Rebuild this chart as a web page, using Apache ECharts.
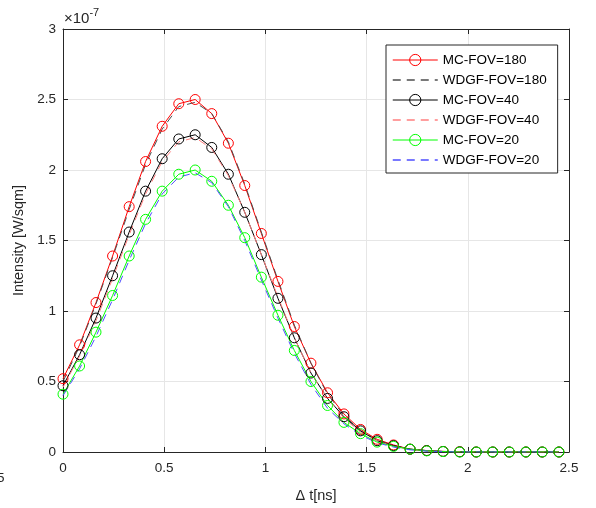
<!DOCTYPE html>
<html><head><meta charset="utf-8">
<script src="https://cdn.jsdelivr.net/npm/echarts@6/dist/echarts.min.js"></script>
<style>html,body{margin:0;padding:0;background:#fff}#c{width:596px;height:508px}</style>
</head><body><div id="c"></div>
<script>
// time axis (ns)
var times = [0, 0.082, 0.163, 0.245, 0.327, 0.408, 0.49, 0.572, 0.653, 0.735, 0.817, 0.898, 0.98, 1.062, 1.143, 1.225, 1.307, 1.388, 1.47, 1.552, 1.633, 1.715, 1.797, 1.878, 1.96, 2.042, 2.123, 2.205, 2.287, 2.368, 2.45];
// intensities in units of 1e-7 W/sqm
var mc180   = [0.52, 0.76, 1.06, 1.39, 1.74, 2.06, 2.31, 2.47, 2.50, 2.40, 2.19, 1.89, 1.55, 1.21, 0.89, 0.63, 0.42, 0.27, 0.16, 0.09, 0.05, 0.02, 0.01, 0.004, 0.002, 0, 0, 0, 0, 0, 0];
var wdgf180 = [0.50, 0.75, 1.05, 1.38, 1.72, 2.04, 2.29, 2.45, 2.48, 2.40, 2.20, 1.90, 1.56, 1.22, 0.90, 0.63, 0.41, 0.26, 0.15, 0.085, 0.045, 0.02, 0.008, 0.003, 0.001, 0, 0, 0, 0, 0, 0];
var mc40    = [0.47, 0.69, 0.95, 1.25, 1.56, 1.85, 2.08, 2.22, 2.25, 2.16, 1.97, 1.70, 1.40, 1.09, 0.81, 0.56, 0.38, 0.25, 0.15, 0.08, 0.045, 0.02, 0.01, 0.004, 0.001, 0, 0, 0, 0, 0, 0];
var wdgf40  = [0.46, 0.68, 0.93, 1.23, 1.54, 1.83, 2.06, 2.20, 2.23, 2.15, 1.96, 1.70, 1.40, 1.10, 0.81, 0.56, 0.38, 0.24, 0.14, 0.08, 0.04, 0.02, 0.008, 0.003, 0.001, 0, 0, 0, 0, 0, 0];
var mc20    = [0.41, 0.61, 0.85, 1.11, 1.39, 1.65, 1.85, 1.97, 2.00, 1.92, 1.75, 1.52, 1.24, 0.97, 0.72, 0.50, 0.33, 0.21, 0.13, 0.07, 0.04, 0.02, 0.008, 0.003, 0, 0, 0, 0, 0, 0, 0];
var wdgf20  = [0.40, 0.59, 0.82, 1.08, 1.36, 1.62, 1.83, 1.95, 1.98, 1.91, 1.74, 1.50, 1.22, 0.95, 0.70, 0.48, 0.31, 0.20, 0.12, 0.065, 0.035, 0.015, 0.006, 0.002, 0, 0, 0, 0, 0, 0, 0];
var names = ['MC-FOV=180', 'WDGF-FOV=180', 'MC-FOV=40', 'WDGF-FOV=40', 'MC-FOV=20', 'WDGF-FOV=20'];
var xTicks = [0, 0.5, 1, 1.5, 2, 2.5];
var yTicks = [0, 0.5, 1, 1.5, 2, 2.5, 3];

function pairs(v){ return times.map(function(t,i){ return [t, v[i]]; }); }
var FONT = 'Liberation Sans, Arial, Helvetica, sans-serif';
var TXT = '#262626';

function mcSeries(name, vals, color){
  return {name:name, type:'line', data:pairs(vals), symbol:'circle', symbolSize:10,
    itemStyle:{color:'rgba(255,255,255,0)', borderColor:color, borderWidth:1},
    lineStyle:{color:color, width:1}, emphasis:{disabled:true}};
}
function wdSeries(name, vals, color){
  return {name:name, type:'line', data:pairs(vals), symbol:'none', showSymbol:false,
    itemStyle:{color:color}, lineStyle:{color:color, width:1, type:[8,6]}, emphasis:{disabled:true}};
}
var legendData = names.map(function(n, i){
  return i % 2 === 0
    ? {name:n, itemStyle:{color:'rgba(255,255,255,0)', borderWidth:1}, lineStyle:{width:1}}
    : {name:n, itemStyle:{color:'rgba(255,255,255,0)', borderColor:'rgba(255,255,255,0)', borderWidth:0}, lineStyle:{width:1.5}};
});

var chart = echarts.init(document.getElementById('c'), null, {renderer:'canvas'});
chart.setOption({
  animation:false,
  backgroundColor:'#fff',
  textStyle:{fontFamily:FONT},
  grid:{left:63, top:29, right:27, bottom:56},
  legend:{
    data:legendData, orient:'vertical', left:386, top:45,
    padding:[8,11,6,6], itemWidth:45, itemHeight:14, itemGap:6,
    backgroundColor:'#fff', borderColor:'#262626', borderWidth:1, borderRadius:0,
    textStyle:{fontFamily:FONT, fontSize:13.5, color:'#000'},
    lineStyle:{width:1}, itemStyle:{borderWidth:1},
    selectedMode:false
  },
  xAxis:[{
    type:'value', min:0, max:2.5, interval:0.5,
    name:'\u0394 t[ns]', nameLocation:'middle', nameGap:36,
    nameTextStyle:{fontFamily:FONT, fontSize:14.5, color:TXT},
    axisLine:{show:true, onZero:false, lineStyle:{color:TXT, width:1}},
    axisTick:{show:true, inside:true, length:5, lineStyle:{color:TXT}},
    axisLabel:{fontFamily:FONT, fontSize:13.5, color:TXT, margin:9},
    splitLine:{show:true, lineStyle:{color:'#e6e6e6', width:1}}
  },{
    type:'value', position:'top', min:0, max:2.5, interval:0.5,
    axisLine:{show:true, onZero:false, lineStyle:{color:TXT, width:1}},
    axisTick:{show:true, inside:true, length:5, lineStyle:{color:TXT}},
    axisLabel:{show:false}, splitLine:{show:false}
  }],
  yAxis:[{
    type:'value', min:0, max:3, interval:0.5,
    name:'Intensity [W/sqm]', nameLocation:'middle', nameGap:35, nameRotate:90,
    nameTextStyle:{fontFamily:FONT, fontSize:14.5, color:TXT},
    axisLine:{show:true, onZero:false, lineStyle:{color:TXT, width:1}},
    axisTick:{show:true, inside:true, length:5, lineStyle:{color:TXT}},
    axisLabel:{fontFamily:FONT, fontSize:13.5, color:TXT, margin:7},
    splitLine:{show:true, lineStyle:{color:'#e6e6e6', width:1}}
  },{
    type:'value', position:'right', min:0, max:3, interval:0.5,
    axisLine:{show:true, onZero:false, lineStyle:{color:TXT, width:1}},
    axisTick:{show:true, inside:true, length:5, lineStyle:{color:TXT}},
    axisLabel:{show:false}, splitLine:{show:false}
  }],
  graphic:[
    {type:'text', left:64, top:7, style:{
      text:'{a|\u00d710}{b|-7}', fill:TXT,
      rich:{a:{fontFamily:FONT, fontSize:15, fill:TXT, verticalAlign:'bottom'},
            b:{fontFamily:FONT, fontSize:11, fill:TXT, verticalAlign:'top', padding:[0,0,8,0]}}}},
    {type:'text', left:-3, top:471, style:{text:'5', fontFamily:FONT, fontSize:13.5, fill:TXT}}
  ],
  series:[
    mcSeries(names[0], mc180, '#ff0000'),
    wdSeries(names[1], wdgf180, '#4d4d4d'),
    mcSeries(names[2], mc40, '#000000'),
    wdSeries(names[3], wdgf40, '#ff7f7f'),
    mcSeries(names[4], mc20, '#00ff00'),
    wdSeries(names[5], wdgf20, '#4d4dff')
  ]
});
</script></body></html>
